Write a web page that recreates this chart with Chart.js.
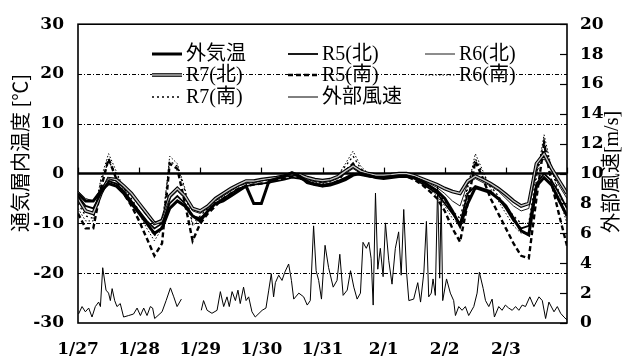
<!DOCTYPE html>
<html>
<head>
<meta charset="utf-8">
<script src="https://cdn.jsdelivr.net/npm/chart.js@4.4.1/dist/chart.umd.min.js"></script>
<style>
  body { margin: 0; background: #fff; }
  #graf { display: block; }
</style>
</head>
<body>
<canvas id="graf" width="626" height="358"></canvas>
<script>
// 経過時間 [h]  1/27 0:00 起点, 3時間おき
const hours = [0, 3, 6, 9, 12, 15, 18, 21, 24, 27, 30, 33, 36, 39, 42, 45,
  48, 51, 54, 57, 60, 63, 66, 69, 72, 75, 78, 81, 84, 87, 90, 93,
  96, 99, 102, 105, 108, 111, 114, 117, 120, 123, 126, 129, 132, 135, 138, 141,
  144, 147, 150, 153, 156, 159, 162, 165, 168, 171, 174, 177, 180, 183, 186, 189, 192]

const dayLabels = ['1/27', '1/28', '1/29', '1/30', '1/31', '2/1', '2/2', '2/3']
const gridValues = [20, 10, -10, -20]

// 温度 [℃]
const outdoor = [-4, -5.5, -5.5, -3.5, -2, -2.5, -4, -6,
  -8, -10, -12, -11, -7, -5.5, -6.5, -8.5,
  -9.5, -7.5, -6, -5.5, -4.5, -3.5, -2.5, -6,
  -6, -1.5, -1, -0.5, 0.2, -0.5, -1.8, -2.2,
  -2.5, -2.3, -1.8, -1.2, -0.3, 0, -0.3, -0.8,
  -1, -0.8, -0.6, -0.6, -0.8, -1.5, -2.5, -3.5,
  -5, -7.5, -10.5, -6, -2.8, -3.3, -3.8, -5,
  -6.5, -9, -11.5, -12.3, -2.5, -0.8, -2.3, -5.5, -8.5]

const r5North = [-4.5, -6.5, -7, -4, -1.5, -2, -3.5, -5.5,
  -7.5, -9.5, -11, -10, -6, -4.5, -6, -8.5,
  -9, -7.5, -6, -5, -4, -3, -2.5, -2.2,
  -2, -1.8, -1.5, -1.2, -0.8, -1, -1.5, -2,
  -2.2, -2, -1.5, -0.8, 0, -0.3, -0.6, -0.8,
  -0.8, -0.6, -0.5, -0.5, -1, -2, -3, -4,
  -6, -8, -10, -4, -2.5, -3, -3.5, -5,
  -7, -9.5, -11, -10.5, -2, 0, -1.5, -4, -7]

const r6North = [-3.5, -5, -5.5, -3, -1, -1.5, -3, -4.5,
  -6.5, -8.5, -10, -9, -5, -3.5, -5, -7.5,
  -8, -7, -5.5, -4.5, -3.5, -2.5, -2, -1.8,
  -1.5, -1.2, -1, -0.6, -0.3, -0.6, -1.2, -1.6,
  -1.8, -1.6, -1, 0, 1, 0, -0.4, -0.6,
  -0.6, -0.4, -0.3, -0.3, -0.7, -1.3, -2, -2.8,
  -4, -5.5, -6.5, -2, -1, -1.8, -2.5, -3.5,
  -5, -6.5, -7.5, -7, 1, 3, 0.5, -2.5, -5]

const r7North = [-5, -7.5, -8, -4, -1, -1.2, -2.5, -4,
  -6, -8, -10, -9.5, -4.5, -3, -4.5, -7,
  -7.5, -6.5, -5, -4, -3, -2.2, -1.5, -1.5,
  -1.2, -1, -0.8, -0.5, -0.2, -0.2, -0.8, -1.2,
  -1.4, -1.2, -0.6, 0.5, 1.5, 0.5, 0, -0.3,
  -0.3, -0.2, 0, 0, -0.4, -1, -1.6, -2.2,
  -3, -3.6, -4, -1.5, -0.5, -1.2, -2, -3,
  -4.2, -5.5, -6.5, -6, 2, 4, 1, -1.5, -4]

const r5South = [-8, -11, -11, -3, 3, -1, -4, -6.5,
  -9.5, -13, -16.5, -14, 2, 1, -6, -13.5,
  -10, -8, -6.5, -5, -4, -3, -2.5, -2.2,
  -2, -1.8, -1.2, -1, -0.5, -0.8, -1.5, -2.2,
  -2.5, -2.2, -1.5, 0.5, 2, 0, -0.5, -0.8,
  -0.8, -0.6, -0.5, -0.6, -1.2, -2.2, -3.5, -5,
  -7.5, -11, -13.7, -6, 2.5, -1, -5, -8,
  -11, -14, -16.5, -17, -5, 6, -2, -8.5, -14.5]

const r6South = [-7, -9.5, -9.5, -1, 4, 0.5, -3, -5.5,
  -8, -11, -13.5, -11, 3.5, 2, -3, -10.5,
  -9, -7.5, -6, -4.5, -3.5, -2.5, -2, -1.8,
  -1.5, -1.2, -0.8, -0.5, 0, -0.3, -1, -1.8,
  -2, -1.8, -0.5, 2, 4.5, 1.5, 0, -0.5,
  -0.5, -0.3, -0.2, -0.3, -1, -2, -3, -4.5,
  -6.5, -9, -10.5, -3, 4, 0.5, -3, -5.5,
  -8, -10.5, -12, -12, -1, 7.8, 1, -5, -10]

const r7South = [-6, -8.5, -9, -1.5, 2.5, 0, -3, -5,
  -7.5, -10, -12.5, -10.5, 2.5, 1.5, -3.5, -10,
  -8.5, -7, -5.5, -4.2, -3.2, -2.3, -1.8, -1.6,
  -1.3, -1, -0.7, -0.4, 0, -0.2, -0.9, -1.6,
  -1.8, -1.5, -0.4, 1.5, 3.5, 1, -0.1, -0.4,
  -0.4, -0.3, -0.1, -0.2, -0.8, -1.7, -2.6, -3.8,
  -5.5, -7.5, -9, -2.5, 3, 0, -2.5, -4.5,
  -6.5, -8.5, -10, -10, 0, 6.5, 1, -4, -9]

// 外部風速 [m/s]  (欠測は null)
const windHours = [0.2, 1.6, 2.9, 4.2, 5.5, 6.8, 8.1, 8.8, 9.7, 11, 12, 12.7, 13.4, 14.4, 15.3, 16.6,
  17.9, 19.9, 21.8, 23.2, 24.5, 25.8, 27.1, 28.4, 29.3, 30.1, 31.4, 33, 34.6, 36.3, 37.6, 38.9,
  40.6, 44.5, 48.4, 49.3, 50.7, 52.6, 54.6, 55.9, 57.2, 58.5, 59.4, 60.5, 61.8, 62.8, 63.7, 65,
  66, 67, 68.3, 69.6, 72.3, 73.8, 74.9, 75.9, 76.8, 77.5, 78.8, 80.1, 81.2, 82.7, 83.8, 84.7,
  86.7, 88.6, 90, 91.2, 92.5, 93.5, 94.5, 95.6, 97, 98.4, 100.2, 101.7, 102.8, 104.1, 105.7, 107,
  108.3, 109.6, 110.9, 111.9, 113.2, 114.2, 115.1, 115.9, 116.8, 117.7, 118.7, 119.8, 120.7, 122, 123.3, 124.6,
  125.9, 126.9, 127.9, 129, 129.9, 131.8, 133.4, 134.5, 135.8, 136.8, 137.7, 138.7, 139.4, 140.3, 141.2, 142,
  142.6, 143.2, 144.7, 146.2, 147.5, 148.2, 149.5, 150.8, 152.1, 153.4, 155.4, 156.7, 157.6, 159.1, 160, 161.3,
  162.6, 163.5, 165.2, 166.5, 167.8, 169.1, 170.5, 171.8, 173.1, 174.4, 175.7, 177.4, 179, 181, 182.3, 183.6,
  184.9, 186.9, 188.2, 189.5, 190.8, 192]
const windSpeed = [0.6, 1.1, 0.75, 1.0, 0.4, 1.1, 1.4, 1.1, 3.7, 2.2, 2.0, 1.5, 2.3, 1.5, 1.1, 1.3,
  0.4, 0.5, 0.6, 1.0, 0.5, 1.0, 0.5, 1.1, 1.0, 0.3, 0.5, 0.75, 1.5, 2.35, 1.75, 1.1,
  1.6, null, 0.85, 1.5, 0.85, 0.65, 0.85, 2.1, 1.1, 1.75, 1.1, 2.1, 1.5, 2.2, 1.3, 2.4,
  1.5, 1.75, 0.75, 0.4, 0.85, 1.0, 2.2, 3.3, 1.75, 2.7, 3.2, 2.85, 3.4, 3.95, 2.85, 1.6,
  2.0, 1.75, 1.2, 1.5, 6.5, 3.5, 2.85, 1.6, 5.2, 3.7, 2.4, 2.85, 4.6, 1.85, 2.2, 3.5,
  2.4, 1.6, 2.0, 5.4, 5.0, 5.4, 4.3, 1.2, 8.7, 3.6, 5.0, 3.1, 6.7, 4.2, 2.6, 5.0,
  6.1, 3.2, 7.6, 3.4, 1.5, 1.6, 2.7, 1.4, 3.4, 6.8, 1.75, 2.0, 2.95, 1.85, 9.2, 3.0,
  8.4, 1.5, 2.95, 2.0, 1.5, 0.5, 1.1, 0.85, 1.1, 0.5, 1.1, 2.0, 3.4, 2.3, 1.5, 1.1,
  1.6, 0.4, 1.1, 0.85, 1.2, 1.0, 0.85, 1.1, 0.85, 1.2, 1.1, 1.75, 1.1, 1.75, 1.5, 0.3,
  1.4, 0.75, 1.1, 0.65, 0.4, 0.2]

const legendNames = ['外気温', 'R5(北)', 'R6(北)', 'R7(北)', 'R5(南)', 'R6(南)', 'R7(南)', '外部風速']

const toPoints = vals => hours.map((h, i) => ({ x: h, y: vals[i] }))

function tempLine(label, vals, opts) {
  return Object.assign({
    label: label,
    data: toPoints(vals),
    yAxisID: 'y',
    borderColor: '#000',
    pointRadius: 0,
    tension: 0,
    fill: false
  }, opts)
}

const datasets = [
  tempLine('外気温', outdoor, { borderWidth: 3, order: 0 }),
  tempLine('R5(北)', r5North, { borderWidth: 1.8, order: 1 }),
  tempLine('R6(北)', r6North, { borderWidth: 0.9, order: 2 }),
  // R7(北) は二重線 (黒の太線に灰色の芯)
  tempLine('R7(北)', r7North, { borderWidth: 1.4, borderColor: '#c4c4c4', order: 3 }),
  tempLine('R7(北)', r7North, { borderWidth: 3.6, order: 4 }),
  tempLine('R5(南)', r5South, { borderWidth: 2.4, borderDash: [5, 3], order: 5 }),
  tempLine('R6(南)', r6South, { borderWidth: 1, borderDash: [1.5, 2], order: 6 }),
  tempLine('R7(南)', r7South, { borderWidth: 1.3, borderDash: [2, 3], order: 7 }),
  {
    label: '外部風速',
    data: windHours.map((h, i) => ({ x: h, y: windSpeed[i] })),
    yAxisID: 'y2',
    borderColor: '#000',
    borderWidth: 1,
    pointRadius: 0,
    tension: 0,
    spanGaps: false,
    order: 8
  }
]

// 枠・補助線・目盛・凡例・軸タイトル
const frame = {
  id: 'frame',
  beforeDatasetsDraw(chart) {
    const { ctx, chartArea: a, scales: { x, y, y2 } } = chart
    ctx.save()
    ctx.strokeStyle = '#000'
    ctx.lineWidth = 1
    ctx.setLineDash([4, 2, 1, 2])
    gridValues.forEach(v => {
      const py = Math.round(y.getPixelForValue(v)) + 0.5
      ctx.beginPath()
      ctx.moveTo(a.left, py)
      ctx.lineTo(a.right, py)
      ctx.stroke()
    })
    ctx.setLineDash([])
    const y0 = y.getPixelForValue(0)
    ctx.lineWidth = 2.5
    ctx.beginPath()
    ctx.moveTo(a.left, y0)
    ctx.lineTo(a.right, y0)
    ctx.stroke()
    ctx.lineWidth = 1.2
    x.ticks.forEach(t => {
      const px = Math.round(x.getPixelForValue(t.value)) + 0.5
      ctx.beginPath()
      ctx.moveTo(px, y0)
      ctx.lineTo(px, y0 - 6)
      ctx.stroke()
    })
    y2.ticks.forEach(t => {
      const py = Math.round(y2.getPixelForValue(t.value)) + 0.5
      ctx.beginPath()
      ctx.moveTo(a.right, py)
      ctx.lineTo(a.right - 7, py)
      ctx.stroke()
    })
    ctx.restore()
  },
  afterDraw(chart) {
    const { ctx, chartArea: a } = chart
    ctx.save()
    ctx.strokeStyle = '#000'
    ctx.lineWidth = 1.6
    ctx.strokeRect(a.left, a.top, a.right - a.left, a.bottom - a.top)

    // 凡例 3列
    const colX = [152, 288, 425]
    const rowY = [54, 75, 97]
    ctx.font = '20px "Liberation Serif", "Noto Sans CJK JP"'
    ctx.textBaseline = 'middle'
    ctx.fillStyle = '#000'
    legendNames.forEach((name, i) => {
      const lx = colX[i % 3]
      const ly = rowY[Math.floor(i / 3)]
      chart.data.datasets
        .filter(d => d.label === name)
        .sort((p, q) => q.order - p.order)
        .forEach(d => {
          ctx.strokeStyle = d.borderColor
          ctx.lineWidth = d.borderWidth
          ctx.setLineDash(d.borderDash || [])
          ctx.beginPath()
          ctx.moveTo(lx, ly)
          ctx.lineTo(lx + 30, ly)
          ctx.stroke()
        })
      ctx.setLineDash([])
      ctx.fillText(name, lx + 34, ly + 1)
    })

    // 軸タイトル
    ctx.textAlign = 'center'
    ctx.font = '20px "Noto Sans CJK JP"'
    ctx.translate(20, 153)
    ctx.rotate(-Math.PI / 2)
    ctx.fillText('通気層内温度 [℃]', 0, 0)
    ctx.setTransform(1, 0, 0, 1, 0, 0)
    ctx.font = '20px "Liberation Serif", "Noto Sans CJK JP"'
    ctx.translate(613, 172)
    ctx.rotate(-Math.PI / 2)
    ctx.fillText('外部風速[m/s]', 0, 0)
    ctx.restore()
  }
}

const tickFont = { family: 'DejaVu Serif', weight: 'bold', size: 17 }

const grafic = new Chart(document.getElementById('graf'), {
  type: 'line',
  data: { datasets: datasets },
  options: {
    responsive: false,
    animation: false,
    events: [],
    layout: { padding: { top: 20, left: 0, right: 0, bottom: 0 } },
    plugins: {
      legend: { display: false },
      tooltip: { enabled: false }
    },
    scales: {
      x: {
        type: 'linear',
        min: 0,
        max: 192,
        ticks: {
          stepSize: 24,
          autoSkip: false,
          maxRotation: 0,
          padding: 16,
          color: '#000',
          font: tickFont,
          callback: v => dayLabels[v / 24] ?? ''
        },
        grid: { display: false, drawTicks: false },
        border: { display: false },
        afterFit: s => { s.height = 35 }
      },
      y: {
        position: 'left',
        min: -30,
        max: 30,
        ticks: { stepSize: 10, padding: 14, color: '#000', font: tickFont },
        grid: { display: false, drawTicks: false },
        border: { display: false },
        afterFit: s => { s.width = 78 }
      },
      y2: {
        position: 'right',
        min: 0,
        max: 20,
        ticks: { stepSize: 2, padding: 13, color: '#000', font: tickFont },
        grid: { display: false, drawTicks: false },
        border: { display: false },
        afterFit: s => { s.width = 59 }
      }
    }
  },
  plugins: [frame]
})
</script>
</body>
</html>
